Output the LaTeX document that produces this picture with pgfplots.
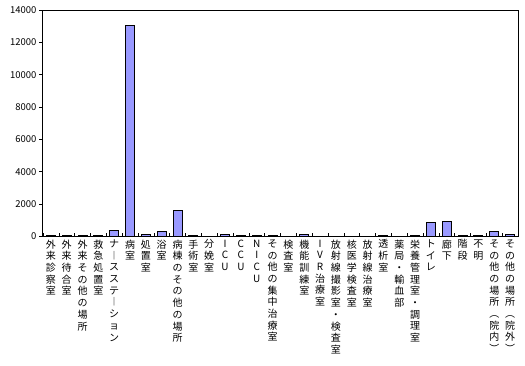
\documentclass[border=0pt]{standalone}
\usepackage{fontspec}
\setmainfont{Noto Sans CJK JP}
\usepackage{pgfplots}
\pgfplotsset{compat=1.18}
\def\vs#1{\vtop{\baselineskip=11.7pt\lineskiplimit=-20pt\lineskip=0pt\vsaux#1\relax}}
\def\vsaux#1{\ifx\relax#1\else\hbox to 10pt{\hss#1\hss}\expandafter\vsaux\fi}
\definecolor{barfill}{HTML}{9999FF}
\begin{document}
\begin{tikzpicture}
\useasboundingbox (-43pt,-128.5pt) rectangle (482pt,236.5pt);
\begin{axis}[
  at={(0pt,0pt)}, anchor=south west,
  width=475pt, height=226.5pt, scale only axis,
  ybar, bar width=9pt,
  xmin=0.5, xmax=30.5, ymin=0, ymax=14000,
  ytick={0,2000,4000,6000,8000,10000,12000,14000},
  scaled y ticks=false,
  /pgf/number format/1000 sep={},
  /pgf/number format/assume math mode=true,
  xtick={0.5,1.5,...,30.5},
  x tick label as interval,
  xticklabels={\vs{外来診察室},\vs{外来待合室},\vs{外来その他の場所},\vs{救急処置室},\vs{ナ︱スステ︱ション},\vs{病室},\vs{処置室},\vs{浴室},\vs{病棟のその他の場所},\vs{手術室},\vs{分娩室},\vs{ICU},\vs{CCU},\vs{NICU},\vs{その他の集中治療室},\vs{検査室},\vs{機能訓練室},\vs{IVR治療室},\vs{放射線撮影室・検査室},\vs{核医学検査室},\vs{放射線治療室},\vs{透析室},\vs{薬局・輸血部},\vs{栄養管理室・調理室},\vs{トイレ},\vs{廊下},\vs{階段},\vs{不明},\vs{その他の場所︵院内︶},\vs{その他の場所︵院外︶}},
  xtick pos=bottom, ytick pos=left,
  tick align=inside,
  major tick length=3.5pt,
  y tick style={xshift=-3.5pt},
  tick style={black, line width=0.6pt},
  axis line style={line width=1pt},
  xticklabel style={font=\fontsize{10pt}{11.7pt}\selectfont, anchor=north, yshift=-3pt, inner sep=0pt},
  yticklabel style={font=\fontsize{9.5pt}{11pt}\selectfont, xshift=-3pt},
]
\addplot[fill=barfill, draw=black, line width=1pt] coordinates {
(1,40) (2,40) (3,40) (4,40) (5,400) (6,13050) (7,140) (8,330) (9,1620) (10,40)
(11,0) (12,130) (13,40) (14,40) (15,40) (16,0) (17,110) (18,0) (19,30) (20,0)
(21,0) (22,40) (23,0) (24,40) (25,860) (26,940) (27,40) (28,40) (29,310) (30,130)
};
\end{axis}
\end{tikzpicture}
\end{document}
